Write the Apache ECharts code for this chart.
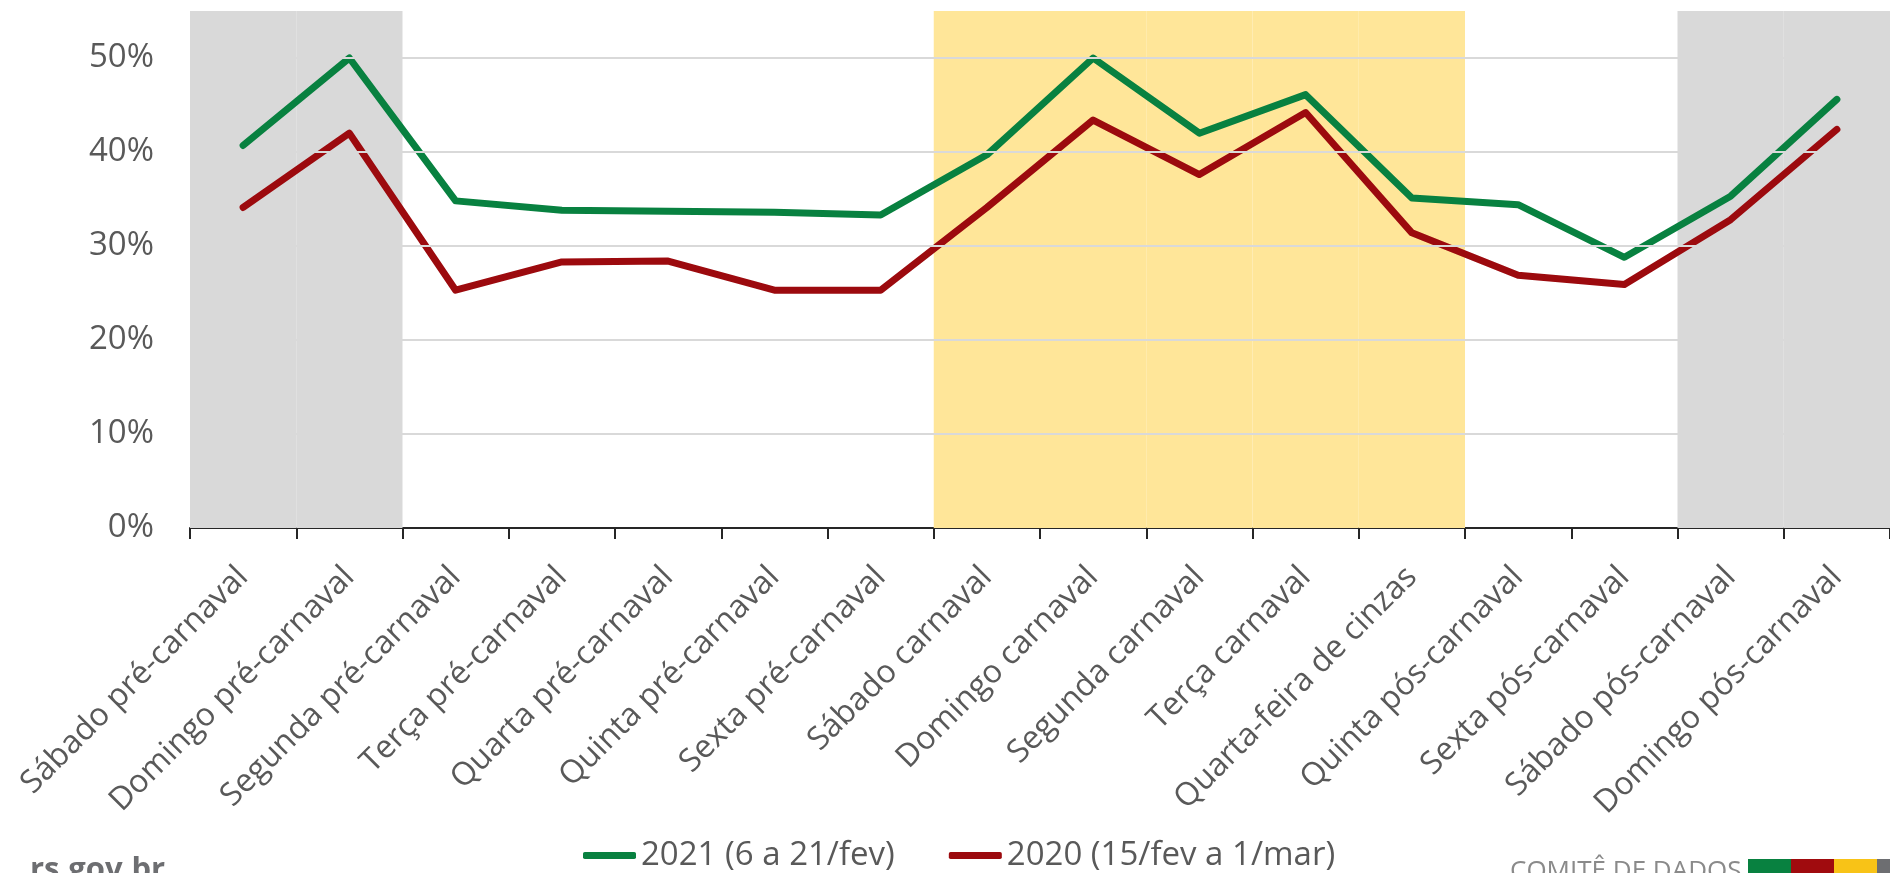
<!DOCTYPE html>
<html>
<head>
<meta charset="utf-8">
<script src="https://cdn.jsdelivr.net/npm/echarts@6/dist/echarts.min.js"></script>
<style>
html,body{margin:0;padding:0;background:#fff;}
#chart{width:1890px;height:873px;}
</style>
</head>
<body>
<div id="chart"></div>
<script>
const categories = ['Sábado pré-carnaval','Domingo pré-carnaval','Segunda pré-carnaval','Terça pré-carnaval','Quarta pré-carnaval','Quinta pré-carnaval','Sexta pré-carnaval','Sábado carnaval','Domingo carnaval','Segunda carnaval','Terça carnaval','Quarta-feira de cinzas','Quinta pós-carnaval','Sexta pós-carnaval','Sábado pós-carnaval','Domingo pós-carnaval'];
const series2021 = [40.7, 50.0, 34.8, 33.8, 33.7, 33.6, 33.3, 39.7, 50.0, 42.0, 46.1, 35.1, 34.4, 28.8, 35.3, 45.6];
const series2020 = [34.1, 42.0, 25.3, 28.3, 28.4, 25.3, 25.3, 34.1, 43.4, 37.6, 44.2, 31.4, 26.9, 25.9, 32.8, 42.4];
const bandKind = ['weekend','weekend',null,null,null,null,null,'carnaval','carnaval','carnaval','carnaval','carnaval',null,null,'weekend','weekend'];
const bandTop = 55;
const yTicks = [10, 20, 30, 40, 50];
const seriesNames = ['2021 (6 a 21/fev)', '2020 (15/fev a 1/mar)'];

const bandColors = {weekend:'#d9d9d9', carnaval:'#ffe699'};
const chart = echarts.init(document.getElementById('chart'), null, {renderer:'canvas'});
const font = '"Open Sans", sans-serif';

chart.setOption({
  animation:false,
  backgroundColor:'#ffffff',
  grid:{left:190, right:0, top:11, bottom:345, containLabel:false},
  legend:{
    data: seriesNames,
    left:578, top:834,
    itemWidth:53, itemHeight:7, itemGap:54,
    icon:'roundRect',
    textStyle:{fontFamily:font, fontSize:33, color:'#595959', padding:[0,0,0,0]}
  },
  xAxis:{
    type:'category', data:categories, boundaryGap:true,
    axisLine:{show:true, lineStyle:{color:'#262626', width:2}},
    axisTick:{show:true, alignWithLabel:false, length:11, lineStyle:{color:'#262626', width:2}},
    axisLabel:{rotate:45, interval:0, margin:44, hideOverlap:false, fontFamily:font, fontSize:32, color:'#595959'},
    splitLine:{show:false}
  },
  yAxis:{
    type:'value', min:0, max:bandTop, interval:10,
    axisLine:{show:false}, axisTick:{show:false}, splitLine:{show:false},
    axisLabel:{showMaxLabel:false, margin:36, fontFamily:font, fontSize:33, color:'#595959', formatter: v => v + '%'}
  },
  graphic:[
    {type:'text', left:30, top:855, style:{text:'rs.gov.br', font:'bold 31px "Open Sans", sans-serif', fill:'#6d6e71'}},
    {type:'text', left:1510, top:859, style:{text:'COMITÊ DE DADOS', font:'26px "Open Sans", sans-serif', fill:'#8a8a8a'}},
    {type:'rect', shape:{x:1748, y:859, width:43, height:20}, style:{fill:'#088140'}},
    {type:'rect', shape:{x:1791, y:859, width:43, height:20}, style:{fill:'#a00b0e'}},
    {type:'rect', shape:{x:1834, y:859, width:43, height:20}, style:{fill:'#f8c317'}},
    {type:'rect', shape:{x:1877, y:859, width:20, height:20}, style:{fill:'#6d6e71'}}
  ],
  series:[
    {
      name:'grid', type:'line', data:[], z:1, silent:true,
      markLine:{silent:true, symbol:['none','none'], label:{show:false},
        lineStyle:{color:'#d9d9d9', width:2, type:'solid'},
        data: yTicks.map(v => ({yAxis:v}))}
    },
    {
      name:'bands', type:'bar', z:2, silent:true, barWidth:'100%', barGap:'-100%',
      data: bandKind.map(k => k ? {value:bandTop, itemStyle:{color:bandColors[k]}} : null)
    },
    {
      name:seriesNames[0], type:'line', data:series2021, z:4, symbol:'none',
      lineStyle:{color:'#088140', width:7, cap:'round', join:'round'}, itemStyle:{color:'#088140'}
    },
    {
      name:seriesNames[1], type:'line', data:series2020, z:3, symbol:'none',
      lineStyle:{color:'#9c0a0e', width:7, cap:'round', join:'round'}, itemStyle:{color:'#9c0a0e'}
    }
  ]
});
</script>
</body>
</html>
